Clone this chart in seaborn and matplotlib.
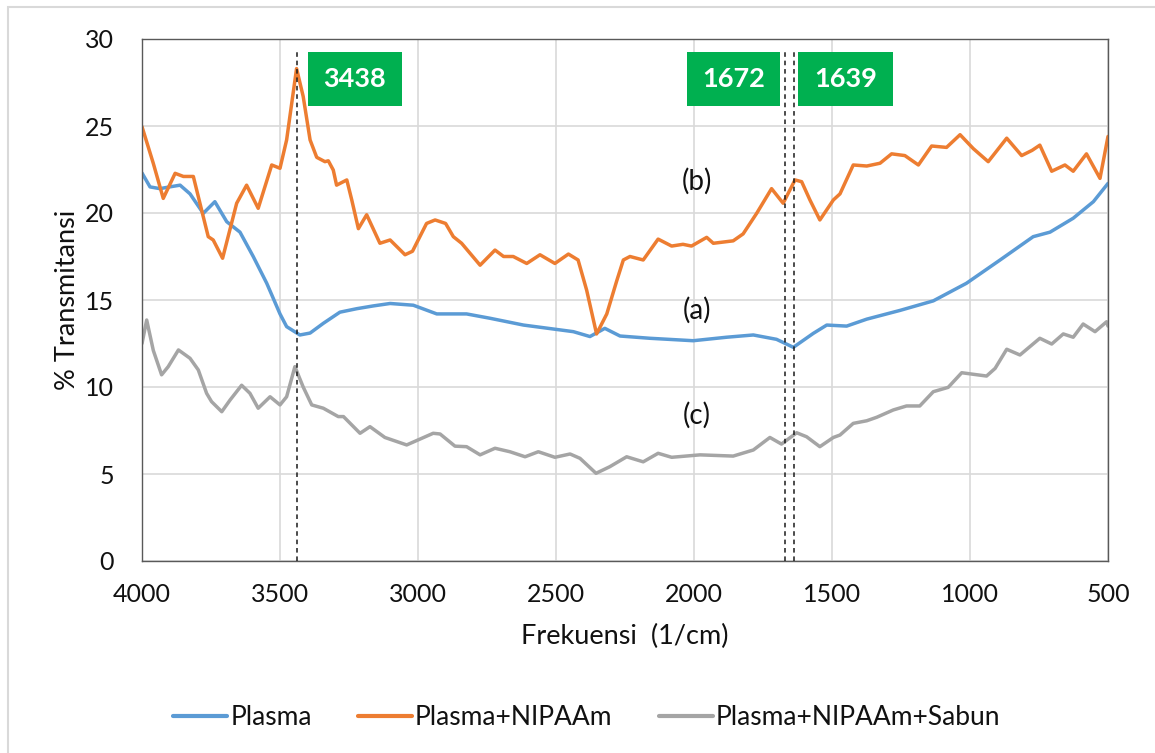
import numpy as np
import pandas as pd
import matplotlib
matplotlib.use("Agg")
import matplotlib.pyplot as plt
from matplotlib.patches import Rectangle
import seaborn as sns

# ---- data ----
plasma_x = [4000, 3971, 3935, 3900, 3862, 3826, 3778, 3736, 3693, 3645, 3597, 3548, 3500,
            3476, 3428, 3391, 3343, 3283, 3222, 3162, 3101, 3017, 2932, 2824, 2739, 2618,
            2437, 2377, 2323, 2268, 2160, 2003, 1882, 1785, 1701, 1640, 1568, 1519, 1447,
            1374, 1254, 1133, 1013, 891, 771, 710, 626, 553, 500]
plasma_y = [22.3, 21.5, 21.4, 21.5, 21.6, 21.1, 19.98, 20.65, 19.5, 18.9, 17.5, 15.96, 14.2,
            13.47, 12.99, 13.1, 13.66, 14.3, 14.5, 14.66, 14.8, 14.7, 14.2, 14.2, 13.95, 13.56,
            13.18, 12.9, 13.37, 12.93, 12.8, 12.66, 12.86, 12.99, 12.74, 12.28, 13.08, 13.56, 13.5,
            13.9, 14.4, 14.95, 15.96, 17.3, 18.64, 18.9, 19.7, 20.65, 21.7]

nipaam_x = [4000, 3959, 3923, 3880, 3850, 3814, 3784, 3760, 3742, 3708, 3657, 3621, 3579,
            3530, 3500, 3476, 3440, 3416, 3391, 3367, 3337, 3325, 3307, 3295, 3258, 3240,
            3216, 3186, 3138, 3101, 3047, 3020, 2969, 2938, 2900, 2872, 2842, 2775, 2721,
            2690, 2655, 2606, 2558, 2504, 2455, 2420, 2389, 2353, 2316, 2280, 2256, 2232,
            2184, 2130, 2081, 2040, 2009, 1954, 1930, 1858, 1822, 1773, 1719, 1677, 1634,
            1610, 1580, 1544, 1495, 1471, 1423, 1374, 1326, 1284, 1236, 1187, 1139, 1085,
            1036, 988, 934, 867, 813, 775, 747, 704, 656, 626, 578, 529, 500]
nipaam_y = [24.96, 22.85, 20.84, 22.28, 22.1, 22.1, 20.17, 18.64, 18.45, 17.4, 20.56, 21.6, 20.27,
            22.76, 22.57, 24.2, 28.3, 26.7, 24.2, 23.2, 22.95, 23.0, 22.47, 21.6, 21.9, 20.75,
            19.1, 19.9, 18.26, 18.45, 17.6, 17.8, 19.4, 19.6, 19.4, 18.64, 18.26, 17.0, 17.87,
            17.5, 17.5, 17.1, 17.6, 17.1, 17.64, 17.3, 15.57, 13.05, 14.2, 16.1, 17.3, 17.5,
            17.3, 18.5, 18.1, 18.2, 18.1, 18.6, 18.26, 18.4, 18.8, 19.98, 21.4, 20.56, 21.9,
            21.8, 20.75, 19.6, 20.75, 21.1, 22.76, 22.7, 22.86, 23.4, 23.3, 22.76, 23.85, 23.77,
            24.5, 23.7, 22.95, 24.3, 23.3, 23.6, 23.9, 22.4, 22.76, 22.4, 23.4, 21.99, 24.4]

sabun_x = [4000, 3983, 3959, 3929, 3905, 3868, 3826, 3796, 3766, 3748, 3711, 3681, 3639,
           3609, 3579, 3536, 3500, 3476, 3446, 3416, 3385, 3343, 3289, 3270, 3210, 3174,
           3120, 3041, 2945, 2920, 2866, 2824, 2775, 2721, 2667, 2612, 2564, 2504, 2449,
           2413, 2355, 2305, 2244, 2184, 2130, 2081, 1978, 1858, 1785, 1725, 1683, 1628,
           1592, 1544, 1495, 1471, 1423, 1374, 1338, 1278, 1230, 1182, 1133, 1079, 1030,
           940, 909, 867, 819, 747, 704, 662, 626, 590, 547, 505, 500]
sabun_y = [12.5, 13.85, 12.1, 10.7, 11.17, 12.13, 11.65, 10.98, 9.64, 9.16, 8.58, 9.25, 10.1,
           9.64, 8.78, 9.44, 8.97, 9.44, 11.17, 10.0, 8.97, 8.78, 8.3, 8.3, 7.34, 7.72,
           7.1, 6.67, 7.34, 7.3, 6.6, 6.57, 6.1, 6.48, 6.28, 5.99, 6.28, 5.96, 6.15,
           5.9, 5.04, 5.42, 5.99, 5.7, 6.19, 5.96, 6.1, 6.03, 6.38, 7.1, 6.72, 7.37,
           7.14, 6.57, 7.1, 7.24, 7.91, 8.06, 8.26, 8.68, 8.91, 8.91, 9.73, 9.98, 10.82,
           10.63, 11.07, 12.17, 11.84, 12.8, 12.47, 13.05, 12.86, 13.62, 13.18, 13.75, 13.5]

series_names = ["Plasma", "Plasma+NIPAAm", "Plasma+NIPAAm+Sabun"]
series_colors = ["#5B9BD5", "#ED7D31", "#A5A5A5"]
peak_positions = [3438, 1672, 1639]
peak_labels = ["3438", "1672", "1639"]
curve_labels = ["(a)", "(b)", "(c)"]
curve_label_y = [14.4, 21.8, 8.35]
curve_label_x = 1990
x_ticks = [4000, 3500, 3000, 2500, 2000, 1500, 1000, 500]
y_ticks = [0, 5, 10, 15, 20, 25, 30]

# ---- build long table ----
frames = []
for name, xs, ys in zip(series_names, [plasma_x, nipaam_x, sabun_x], [plasma_y, nipaam_y, sabun_y]):
    frames.append(pd.DataFrame({"freq": xs, "trans": ys, "series": name}))
df = pd.concat(frames, ignore_index=True)

sns.set_style("white")
plt.rcParams["font.family"] = ["Lato", "DejaVu Sans"]

fig = plt.figure(figsize=(11.55, 7.53), dpi=100)
ax = fig.add_axes([142/1155, 1-561/753, (1108-142)/1155, (561-39)/753])

sns.lineplot(data=df, x="freq", y="trans", hue="series", hue_order=series_names,
             palette=series_colors, estimator=None, sort=False, linewidth=2.5,
             legend=False, ax=ax)
for ln in ax.get_lines():
    ln.set_solid_joinstyle("round")
    ln.set_solid_capstyle("round")

ax.set_xlim(4000, 500)
ax.set_ylim(0, 30)
ax.set_xticks(x_ticks)
ax.set_yticks(y_ticks)
ax.grid(True, color="#D9D9D9", linewidth=1.2)
ax.set_axisbelow(True)
for sp in ax.spines.values():
    sp.set_color("#595959")
    sp.set_linewidth(1.0)
    sp.set_visible(True)
ax.tick_params(axis="both", direction="in", length=7, width=1, color="#595959",
               labelsize=18, labelcolor="#111111")
ax.tick_params(axis="y", pad=20)
ax.tick_params(axis="x", pad=16)

ax.set_xlabel("Frekuensi  (1/cm)", fontsize=19.5, color="#111111", labelpad=13)
ax.set_ylabel("% Transmitansi", fontsize=19.5, color="#111111", labelpad=4)

# dashed peak markers
for p in peak_positions:
    ax.plot([p, p], [0, 29.4], linestyle=(0, (3, 2.5)), color="#1a1a1a", linewidth=1.1, zorder=3)

# green peak labels
box_specs = [(3399, 3058), (2025, 1688), (1623, 1279)]
for (x0, x1), lab in zip(box_specs, peak_labels):
    ax.add_patch(Rectangle((x0, 26.15), x1 - x0, 3.1, facecolor="#00B050", edgecolor="none", zorder=4))
    ax.text((x0 + x1) / 2, 27.7, lab, color="white", fontsize=19.5, fontweight="bold",
            ha="center", va="center", zorder=5)

# curve labels
for lab, yy in zip(curve_labels, curve_label_y):
    ax.text(curve_label_x, yy, lab, fontsize=20, ha="center", va="center", color="#111111")

# legend
handles = [plt.Line2D([], [], color=c, linewidth=3) for c in series_colors]
fig.legend(handles, series_names, loc="center", bbox_to_anchor=(0.508, 0.047), ncol=3,
           frameon=False, fontsize=19, handlelength=2.05, handletextpad=0.12, columnspacing=1.75,
           labelcolor="#111111")

# outer chart border
fig.add_artist(Rectangle((8/1155, -0.1), 1.2, 0.1 + 1 - 7/753, transform=fig.transFigure,
                         facecolor="none", edgecolor="#D9D9D9", linewidth=1.5))

fig.savefig("out.png", dpi=100)
